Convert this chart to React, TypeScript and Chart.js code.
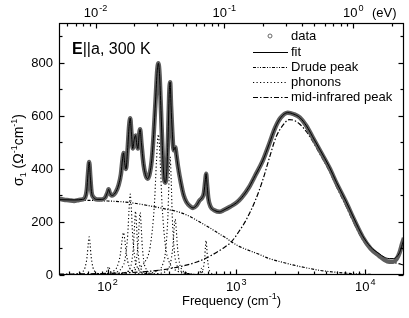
import React, { useEffect, useRef } from "react";
import { Chart, registerables } from "chart.js";
Chart.register(...registerables);

// ---------- data (frequency in cm^-1, sigma in Ω^-1 cm^-1) ----------
const dataFreq = [42, 46, 50, 55, 60, 64, 67, 69, 70.5, 72, 73.5, 75, 78, 83, 90, 96, 100, 102, 104, 108, 115, 122, 127, 131, 133, 136, 139, 143, 147, 150, 153, 157, 161, 165, 169, 172, 176, 179, 183, 190, 197, 205, 212, 220, 228, 236, 243, 248, 253, 260, 268, 275, 281, 288, 295, 301, 306, 311, 318, 326, 335, 342, 352, 370, 390, 410, 440, 460, 490, 520, 540, 560, 575, 582, 590, 605, 630, 680, 738, 800, 900, 1000, 1100, 1250, 1400, 1600, 1800, 2000, 2200, 2500, 2800, 3100, 3500, 3900, 4500, 5260, 6000, 7090, 8200, 9530, 11000, 12850, 14000, 15350, 16500, 17500, 18500, 19400, 20000];
const dataSigma = [288, 284, 282, 279, 283, 285, 292, 320, 380, 426, 370, 315, 292, 285, 285, 292, 312, 323, 310, 300, 310, 340, 380, 440, 460, 420, 400, 470, 560, 591, 540, 477, 510, 526, 490, 477, 530, 549, 500, 420, 378, 363, 380, 430, 530, 660, 770, 798, 760, 620, 450, 360, 348, 390, 520, 680, 727, 640, 540, 470, 482, 455, 410, 350, 300, 275, 258, 253, 262, 282, 290, 310, 360, 382, 350, 290, 258, 243, 238, 245, 258, 272, 292, 330, 375, 430, 495, 555, 592, 612, 606, 594, 562, 520, 465, 405, 345, 275, 208, 144, 100, 72, 58, 50, 50, 60, 85, 120, 140];

const fitFreq = [42, 55, 64, 67, 69, 70.5, 72, 73.5, 75, 78, 83, 90, 96, 100, 102, 104, 108, 115, 122, 127, 131, 133, 136, 139, 143, 147, 150, 153, 157, 161, 165, 169, 172, 176, 179, 183, 190, 197, 205, 212, 220, 228, 236, 243, 248, 253, 260, 268, 275, 281, 288, 295, 301, 306, 311, 318, 326, 335, 342, 352, 370, 390, 410, 440, 460, 490, 520, 540, 560, 575, 582, 590, 605, 630, 680, 738, 800, 900, 1000, 1100, 1250, 1400, 1600, 1800, 2000, 2200, 2500, 2800, 3100, 3500, 3900, 4500, 5260, 6000, 7090, 8200, 9530, 11000, 12850, 14000, 15350, 16500, 17500, 18500, 19400, 20000];
const fitSigma = [284, 283, 285, 292, 320, 380, 426, 370, 315, 292, 285, 285, 292, 312, 323, 310, 300, 310, 340, 380, 440, 460, 420, 400, 470, 560, 591, 540, 477, 510, 526, 490, 477, 530, 549, 500, 420, 378, 363, 380, 430, 530, 660, 770, 798, 760, 620, 450, 360, 348, 390, 520, 680, 727, 640, 540, 470, 482, 455, 410, 350, 300, 275, 258, 253, 262, 282, 290, 310, 360, 382, 350, 290, 258, 243, 238, 245, 258, 272, 292, 330, 375, 430, 495, 555, 592, 612, 606, 594, 562, 522, 468, 408, 348, 278, 212, 148, 106, 80, 68, 62, 62, 68, 85, 115, 135];

const drudeFreq = [42, 60, 80, 100, 130, 160, 200, 250, 300, 360, 430, 520, 620, 738, 830, 914, 1050, 1200, 1500, 1800, 2200, 2800, 3500, 4500, 6000, 8000, 11000, 20000];
const drudeSigma = [283, 282, 281, 279, 276, 271, 263, 254, 246, 237, 222, 200, 178, 155, 140, 125, 108, 96, 78, 62, 50, 37, 27, 17, 10, 5, 2, 1];

const midIRFreq = [42, 60, 100, 177, 250, 319, 400, 500, 585, 700, 800, 914, 1050, 1189, 1400, 1600, 1800, 2032, 2300, 2577, 2800, 3080, 3500, 3900, 4500, 5260, 6000, 7090, 8200, 9530, 11000, 12850, 15350, 17500, 20000];
const midIRSigma = [3, 4, 6, 11, 18, 26, 36, 50, 64, 85, 103, 125, 165, 207, 280, 357, 440, 520, 565, 586, 583, 570, 540, 505, 452, 392, 332, 260, 194, 134, 98, 72, 55, 45, 37];

const phononFreq = [
  [42, 57, 64.5, 67, 69.5, 70.75, 72, 73.25, 74.5, 77, 79.5, 87, 102],
  [78, 84, 93, 96, 99, 100.5, 102, 103.5, 105, 108, 111, 120, 138],
  [60, 91, 112, 119, 126, 129.5, 133, 136.5, 140, 147, 154, 175, 217],
  [72, 111, 130.5, 137, 143.5, 146.75, 150, 153.25, 156.5, 163, 169.5, 189, 228],
  [99, 132, 148.5, 154, 159.5, 162.25, 165, 167.75, 170.5, 176, 181.5, 198, 231],
  [101, 140, 159.5, 166, 172.5, 175.75, 179, 182.25, 185.5, 192, 198.5, 218, 257],
  [120, 146, 197, 214, 231, 239.5, 248, 256.5, 265, 282, 299, 350, 452],
  [162, 234, 270, 282, 294, 300, 306, 312, 318, 330, 342, 378, 450],
  [167, 251, 293, 307, 321, 328, 335, 342, 349, 363, 377, 419, 503],
  [415, 475, 505, 515, 525, 530, 535, 540, 545, 555, 565, 595, 655],
  [414, 498, 540, 554, 568, 575, 582, 589, 596, 610, 624, 666, 750],
];
const phononSigma = [
  [1, 4, 14, 29, 72, 115, 144, 115, 72, 29, 14, 4, 1],
  [1, 1, 3, 6, 16, 26, 32, 26, 16, 6, 3, 1, 0],
  [1, 4, 16, 32, 80, 128, 160, 128, 80, 32, 16, 4, 1],
  [2, 8, 31, 61, 153, 244, 305, 244, 153, 61, 31, 8, 2],
  [2, 6, 24, 48, 120, 192, 240, 192, 120, 48, 24, 6, 2],
  [2, 6, 24, 47, 118, 188, 235, 188, 118, 47, 24, 6, 2],
  [4, 14, 53, 106, 265, 424, 530, 424, 265, 106, 53, 14, 4],
  [3, 12, 44, 89, 222, 356, 445, 356, 222, 89, 44, 12, 3],
  [1.5, 6, 21, 42, 105, 168, 210, 168, 105, 42, 21, 6, 1.5],
  [0.2, 0.7, 2.5, 5, 12.5, 20, 25, 20, 12.5, 5, 2.5, 0.7, 0.2],
  [1, 3.5, 13, 26, 65, 104, 130, 104, 65, 26, 13, 3.5, 1],
];

// ---------- axes ----------
const xMin = 42;
const xMax = 20000;
const yMin = 0;
const yMax = 950;
const xMajorTicks = [100, 1000, 10000];
const xMajorExp = ["2", "3", "4"];
const xMinorTicks = [50, 60, 70, 80, 90, 200, 300, 400, 500, 600, 700, 800, 900, 2000, 3000, 4000, 5000, 6000, 7000, 8000, 9000];
const yMajorTicks = [0, 200, 400, 600, 800];
const yMinorTicks = [100, 300, 500, 700, 900];
const eVMajorTicks = [0.01, 0.1, 1];
const eVMajorExp = ["-2", "-1", "0"];
const eVMinorTicks = [0.006, 0.007, 0.008, 0.009, 0.02, 0.03, 0.04, 0.05, 0.06, 0.07, 0.08, 0.09, 0.2, 0.3, 0.4, 0.5, 0.6, 0.7, 0.8, 0.9, 2];
const CM_PER_EV = 8065.54;

const FONT = "'Liberation Sans', Arial, Helvetica, sans-serif";

function toXY(f: number[], s: number[]) {
  return f.map((v, i) => ({ x: v, y: s[i] }));
}

function drawPow(ctx: CanvasRenderingContext2D, base: string, exp: string, cx: number, baseline: number, size: number) {
  ctx.font = `${size}px ${FONT}`;
  const wb = ctx.measureText(base).width;
  ctx.font = `${size * 0.7}px ${FONT}`;
  const we = ctx.measureText(exp).width;
  const x0 = cx - (wb + we + 1) / 2;
  ctx.textAlign = "left";
  ctx.textBaseline = "alphabetic";
  ctx.font = `${size}px ${FONT}`;
  ctx.fillText(base, x0, baseline);
  ctx.font = `${size * 0.7}px ${FONT}`;
  ctx.fillText(exp, x0 + wb + 1, baseline - size * 0.45);
}

type Piece = { t: string; size: number; dy: number; weight?: string };
function drawPieces(ctx: CanvasRenderingContext2D, pieces: Piece[], x: number, y: number, align: "left" | "center") {
  let total = 0;
  const widths = pieces.map((p) => {
    ctx.font = `${p.weight || ""} ${p.size}px ${FONT}`;
    const w = ctx.measureText(p.t).width;
    total += w;
    return w;
  });
  let cx = align === "center" ? x - total / 2 : x;
  ctx.textAlign = "left";
  ctx.textBaseline = "alphabetic";
  pieces.forEach((p, i) => {
    ctx.font = `${p.weight || ""} ${p.size}px ${FONT}`;
    ctx.fillText(p.t, cx, y + p.dy);
    cx += widths[i];
  });
}

const axesPlugin = {
  id: "customAxes",
  afterDraw(chart: any) {
    const ctx: CanvasRenderingContext2D = chart.ctx;
    const a = chart.chartArea;
    const xs = chart.scales.x;
    const ys = chart.scales.y;
    ctx.save();
    ctx.strokeStyle = "#000";
    ctx.fillStyle = "#000";
    ctx.lineWidth = 1.2;
    ctx.setLineDash([]);
    const L = Math.round(a.left) + 0.5;
    const R = Math.round(a.right) - 0.5;
    const T = Math.round(a.top) + 0.5;
    const B = Math.round(a.bottom) - 0.5;
    ctx.strokeRect(L, T, R - L, B - T);

    const vline = (px: number, y0: number, y1: number) => {
      ctx.beginPath();
      ctx.moveTo(px, y0);
      ctx.lineTo(px, y1);
      ctx.stroke();
    };
    const hline = (py: number, x0: number, x1: number) => {
      ctx.beginPath();
      ctx.moveTo(x0, py);
      ctx.lineTo(x1, py);
      ctx.stroke();
    };
    // bottom ticks
    xMajorTicks.forEach((v) => {
      const px = Math.round(xs.getPixelForValue(v)) + 0.5;
      vline(px, B, B - 5);
    });
    xMinorTicks.forEach((v) => {
      const px = Math.round(xs.getPixelForValue(v)) + 0.5;
      vline(px, B, B - 3);
    });
    // top ticks (eV)
    eVMajorTicks.forEach((v) => {
      const px = Math.round(xs.getPixelForValue(v * CM_PER_EV)) + 0.5;
      vline(px, T, T + 5);
    });
    eVMinorTicks.forEach((v) => {
      const f = v * CM_PER_EV;
      if (f < xMin || f > xMax) return;
      const px = Math.round(xs.getPixelForValue(f)) + 0.5;
      vline(px, T, T + 3);
    });
    // left/right ticks
    yMajorTicks.forEach((v) => {
      const py = Math.round(ys.getPixelForValue(v)) + 0.5;
      hline(py, L, L + 5);
      hline(py, R, R - 5);
    });
    yMinorTicks.forEach((v) => {
      const py = Math.round(ys.getPixelForValue(v)) + 0.5;
      hline(py, L, L + 3);
      hline(py, R, R - 3);
    });

    // tick labels
    ctx.font = `13px ${FONT}`;
    ctx.textAlign = "right";
    ctx.textBaseline = "middle";
    yMajorTicks.forEach((v) => {
      const py = ys.getPixelForValue(v);
      ctx.fillText(String(v), a.left - 6, py + 0.5);
    });
    xMajorTicks.forEach((v, i) => {
      const px = xs.getPixelForValue(v);
      drawPow(ctx, "10", xMajorExp[i], px, a.bottom + 16, 13);
    });
    eVMajorTicks.forEach((v, i) => {
      const px = xs.getPixelForValue(v * CM_PER_EV);
      drawPow(ctx, "10", eVMajorExp[i], px, a.top - 6, 13);
    });
    ctx.font = `13px ${FONT}`;
    ctx.textAlign = "left";
    ctx.textBaseline = "alphabetic";
    ctx.fillText("(eV)", 372, a.top - 6);

    // axis titles
    drawPieces(
      ctx,
      [
        { t: "Frequency (cm", size: 13, dy: 0 },
        { t: "-1", size: 9, dy: -6 },
        { t: ")", size: 13, dy: 0 },
      ],
      (a.left + a.right) / 2,
      305,
      "center"
    );
    ctx.save();
    ctx.translate(23, (a.top + a.bottom) / 2 + 1);
    ctx.rotate(-Math.PI / 2);
    drawPieces(
      ctx,
      [
        { t: "σ", size: 14, dy: 0 },
        { t: "1", size: 9, dy: 3 },
        { t: " (Ω", size: 14, dy: 0 },
        { t: "-1", size: 9, dy: -6 },
        { t: "cm", size: 14, dy: 0 },
        { t: "-1", size: 9, dy: -6 },
        { t: ")", size: 14, dy: 0 },
      ],
      0,
      0,
      "center"
    );
    ctx.restore();

    // panel title
    drawPieces(
      ctx,
      [
        { t: "E", size: 16, dy: 0, weight: "bold" },
        { t: "||a, 300 K", size: 16, dy: 0 },
      ],
      72,
      54,
      "left"
    );

    // legend
    const lx0 = 253;
    const lx1 = 288;
    const tx = 291;
    ctx.font = `13px ${FONT}`;
    ctx.textBaseline = "middle";
    ctx.textAlign = "left";
    ctx.strokeStyle = "#666";
    ctx.lineWidth = 1;
    ctx.beginPath();
    ctx.arc(270, 36, 2, 0, Math.PI * 2);
    ctx.stroke();
    ctx.fillText("data", tx, 36);
    const rows: { y: number; dash: number[]; label: string }[] = [
      { y: 52, dash: [], label: "fit" },
      { y: 67, dash: [3, 1.5, 1, 1.5, 1, 1.5], label: "Drude peak" },
      { y: 82, dash: [1.2, 2.3], label: "phonons" },
      { y: 97, dash: [5, 2, 1.5, 2], label: "mid-infrared peak" },
    ];
    rows.forEach((r) => {
      ctx.strokeStyle = "#000";
      ctx.lineWidth = 1;
      ctx.setLineDash(r.dash);
      ctx.beginPath();
      ctx.moveTo(lx0, r.y + 0.5);
      ctx.lineTo(lx1, r.y + 0.5);
      ctx.stroke();
      ctx.setLineDash([]);
      ctx.fillText(r.label, tx, r.y);
    });
    ctx.restore();
  },
};

export default function App() {
  const ref = useRef<HTMLCanvasElement | null>(null);
  useEffect(() => {
    document.body.style.margin = "0";
    if (!ref.current) return;
    const phononSets = phononFreq.map((f, i) => ({
      label: i === 0 ? "phonons" : "phonon" + i,
      data: toXY(f, phononSigma[i]),
      borderColor: "#000",
      borderWidth: 1.1,
      borderDash: [1.2, 2.3],
      pointRadius: 0,
      cubicInterpolationMode: "monotone" as const,
      fill: false,
      order: 5,
    }));
    const chart = new Chart(ref.current, {
      type: "line",
      data: {
        datasets: [
          {
            label: "fit",
            data: toXY(fitFreq, fitSigma),
            borderColor: "#000",
            borderWidth: 1,
            pointRadius: 0,
            cubicInterpolationMode: "monotone",
            fill: false,
            order: 0,
          },
          {
            label: "data",
            data: toXY(dataFreq, dataSigma),
            borderColor: "#5e5e5e",
            borderWidth: 4.5,
            pointRadius: 0,
            cubicInterpolationMode: "monotone",
            fill: false,
            order: 1,
          },
          {
            label: "Drude peak",
            data: toXY(drudeFreq, drudeSigma),
            borderColor: "#000",
            borderWidth: 1.2,
            borderDash: [3, 1.5, 1, 1.5, 1, 1.5],
            pointRadius: 0,
            cubicInterpolationMode: "monotone",
            fill: false,
            order: 3,
          },
          {
            label: "mid-infrared peak",
            data: toXY(midIRFreq, midIRSigma),
            borderColor: "#000",
            borderWidth: 1.2,
            borderDash: [5, 2, 1.5, 2],
            pointRadius: 0,
            cubicInterpolationMode: "monotone",
            fill: false,
            order: 4,
          },
          ...phononSets,
        ] as any,
      },
      options: {
        animation: false,
        responsive: false,
        layout: { padding: { left: 59, right: 5, top: 23, bottom: 43 } },
        plugins: { legend: { display: false }, tooltip: { enabled: false } },
        scales: {
          x: { type: "logarithmic", min: xMin, max: xMax, display: false },
          y: { type: "linear", min: yMin, max: yMax, display: false },
        },
      },
      plugins: [axesPlugin],
    });
    return () => chart.destroy();
  }, []);
  return (
    <div style={{ position: "absolute", left: 0, top: 0 }}>
      <canvas ref={ref} width={409} height={318} style={{ width: 409, height: 318, display: "block" }} />
    </div>
  );
}
